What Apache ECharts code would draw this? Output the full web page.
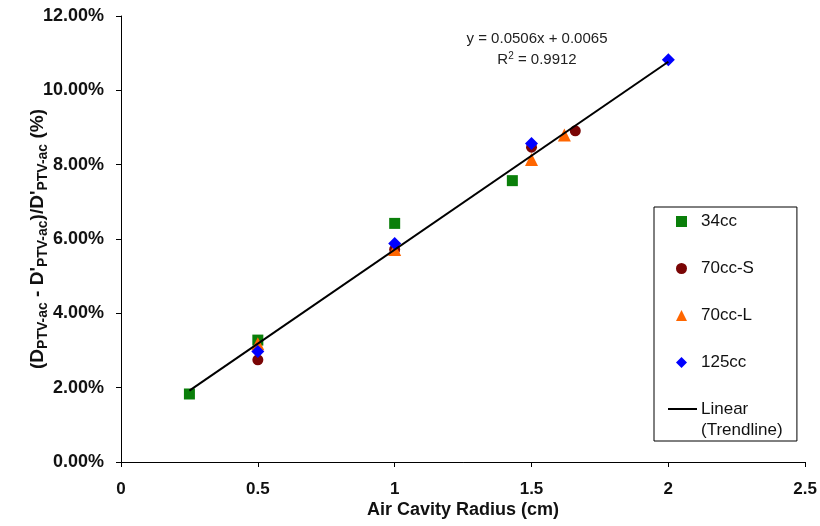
<!DOCTYPE html>
<html>
<head>
<meta charset="utf-8">
<script src="https://cdn.jsdelivr.net/npm/echarts@6/dist/echarts.min.js"></script>
<style>html,body{margin:0;padding:0;background:#fff}#c{width:820px;height:526px}</style>
</head>
<body>
<div id="c"></div>
<script>
// ---- data ----
var x34 = [0.25, 0.5, 1.0, 1.43];
var y34 = [0.0183, 0.0328, 0.0642, 0.0757];
var x70S = [0.5, 1.0, 1.5, 1.66];
var y70S = [0.0275, 0.0572, 0.0847, 0.0891];
var x70L = [0.5, 1.0, 1.5, 1.62];
var y70L = [0.0318, 0.0572, 0.0814, 0.0880];
var x125 = [0.5, 1.0, 1.5, 2.0];
var y125 = [0.0297, 0.0588, 0.0857, 0.1082];
var trendX = [0.25, 2.0];
var trendY = [0.0192, 0.1077];
var seriesNames = ['34cc', '70cc-S', '70cc-L', '125cc'];
var trendName = 'Linear (Trendline)';
var equationText = 'y = 0.0506x + 0.0065';
var r2Value = '0.9912';
var xAxisTitle = 'Air Cavity Radius (cm)';

function pairs(xs, ys) { return xs.map(function (x, i) { return [x, ys[i]]; }); }

var FONT = '"Liberation Sans", Arial, sans-serif';
var chart = echarts.init(document.getElementById('c'), null, { renderer: 'canvas' });

var option = {
  backgroundColor: '#ffffff',
  animation: false,
  textStyle: { fontFamily: FONT },
  grid: { left: 121, right: 8, top: 16, bottom: 64, containLabel: false },
  xAxis: {
    type: 'value', min: 0, max: 2.5, interval: 0.5,
    axisLine: { show: true, onZero: false, lineStyle: { color: '#000', width: 1 } },
    axisTick: { show: true, inside: false, length: 5, lineStyle: { color: '#000' } },
    splitLine: { show: false },
    axisLabel: { color: '#111', fontSize: 17, fontWeight: 'bold', fontFamily: FONT, margin: 19 },
    name: xAxisTitle, nameLocation: 'middle', nameGap: 39, nameMoveOverlap: false,
    nameTextStyle: { color: '#111', fontSize: 18, fontWeight: 'bold', fontFamily: FONT }
  },
  yAxis: {
    type: 'value', min: 0, max: 0.12, interval: 0.02,
    axisLine: { show: true, lineStyle: { color: '#000', width: 1 } },
    axisTick: { show: true, inside: false, length: 5, lineStyle: { color: '#000' } },
    splitLine: { show: false },
    axisLabel: {
      color: '#111', fontSize: 18, fontWeight: 'bold', fontFamily: FONT, margin: 17,
      formatter: function (v) { return (v * 100).toFixed(2) + '%'; }
    },
    name: "(D{s|PTV-ac} - D'{s|PTV-ac})/D'{s|PTV-ac} (%)",
    nameLocation: 'middle', nameRotate: 90, nameGap: 74, nameMoveOverlap: false,
    nameTextStyle: {
      color: '#111', fontSize: 19, fontWeight: 'bold', fontFamily: FONT,
      rich: {
        s: { fontSize: 14, fontWeight: 'bold', fontFamily: FONT, color: '#111', verticalAlign: 'bottom', padding: [0, 0, -3, 0] }
      }
    }
  },
  legend: {
    orient: 'vertical', left: 654, top: 207,
    padding: [6, 43, 70, 22],
    itemWidth: 11, itemHeight: 11, itemGap: 30,
    borderColor: '#000', borderWidth: 1, backgroundColor: '#fff',
    data: seriesNames,
    textStyle: { color: '#111', fontSize: 17, fontFamily: FONT, padding: [0, 0, 0, 9] }
  },
  series: [
    { name: seriesNames[0], type: 'scatter', symbol: 'rect', symbolSize: 11, z: 2,
      itemStyle: { color: '#0a7f0a', opacity: 1 }, data: pairs(x34, y34) },
    { name: seriesNames[1], type: 'scatter', symbol: 'circle', symbolSize: 11, z: 3,
      itemStyle: { color: '#7a0505', opacity: 1 }, data: pairs(x70S, y70S) },
    { name: seriesNames[2], type: 'scatter', symbol: 'triangle', symbolSize: 13, z: 4,
      itemStyle: { color: '#ff6600', opacity: 1 }, data: pairs(x70L, y70L) },
    { name: seriesNames[3], type: 'scatter', symbol: 'diamond', symbolSize: 13, z: 5,
      itemStyle: { color: '#0000ff', opacity: 1 }, data: pairs(x125, y125) },
    { name: trendName, type: 'line', showSymbol: false, symbol: 'none', z: 6,
      lineStyle: { color: '#000', width: 2 }, data: pairs(trendX, trendY) }
  ],
  graphic: [
    { type: 'text', z: 10,
      style: { text: equationText, x: 537, y: 39, align: 'center', verticalAlign: 'middle', font: '15px ' + FONT, fill: '#222' } },
    { type: 'text', z: 10,
      style: { text: 'R{sup|2} = ' + r2Value, x: 537, y: 60, align: 'center', verticalAlign: 'middle',
        font: '15px ' + FONT, fill: '#222',
        rich: { sup: { fontSize: 10, fontFamily: FONT, fill: '#222', verticalAlign: 'top', padding: [0, 0, 8, 0] } } } },
    { type: 'line', z: 10, shape: { x1: 668, y1: 409, x2: 697, y2: 409 }, style: { stroke: '#000', lineWidth: 2 } },
    { type: 'text', z: 10, style: { text: 'Linear', x: 701, y: 409, verticalAlign: 'middle', font: '17px ' + FONT, fill: '#111' } },
    { type: 'text', z: 10, style: { text: '(Trendline)', x: 701, y: 430, verticalAlign: 'middle', font: '17px ' + FONT, fill: '#111' } }
  ]
};
chart.setOption(option);
</script>
</body>
</html>
